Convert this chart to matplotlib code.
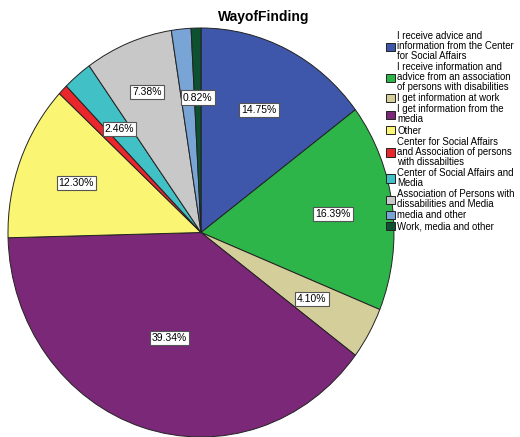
import matplotlib
matplotlib.use("Agg")
import matplotlib.pyplot as plt
import numpy as np

plt.rcParams['font.family'] = ['Liberation Sans', 'DejaVu Sans']

categories = [
    "I receive advice and\ninformation from the Center\nfor Social Affairs",
    "I receive information and\nadvice from an association\nof persons with disabilities",
    "I get information at work",
    "I get information from the\nmedia",
    "Other",
    "Center for Social Affairs\nand Association of persons\nwith dissabilties",
    "Center of Social Affairs and\nMedia",
    "Association of Persons with\ndissabilities and Media",
    "media and other",
    "Work, media and other",
]
counts = [18, 20, 5, 48, 15, 1, 3, 9, 2, 1]
show_label = [True, True, True, True, True, False, True, True, False, True]
colors = ["#3F57AA", "#2DB54A", "#D4CF9A", "#7B2878", "#FAF572",
          "#E8262B", "#41C0C6", "#C8C8C8", "#79A5D6", "#0D5130"]
label_dist = [0.67, 0.69, 0.66, 0.54, 0.69, 0.66, 0.66, 0.74, 0.66, 0.66]

fig = plt.figure(figsize=(5.2, 4.37), dpi=100)
ax = fig.add_axes([8/520, 0.0, 386/520, 409/437])

total = sum(counts)
wedges, _ = ax.pie(counts, colors=colors, startangle=90, counterclock=False,
                   wedgeprops=dict(edgecolor="#222222", linewidth=0.7))
ax.set_aspect('auto')
ax.set_xlim(-1.0, 1.0)
ax.set_ylim(-1.0, 1.0)

for w, c, show, d in zip(wedges, counts, show_label, label_dist):
    if not show:
        continue
    ang = np.deg2rad((w.theta1 + w.theta2) / 2)
    ax.text(d * np.cos(ang), d * np.sin(ang), f"{100*c/total:.2f}%",
            ha="center", va="center", fontsize=7.5,
            bbox=dict(boxstyle="square,pad=0.2", fc="white", ec="#555555", lw=0.8))

fig.text(264/520, 1 - 17/437, "WayofFinding", ha="center", va="center",
         fontsize=10, fontweight="bold")

leg = fig.legend(wedges, categories, loc="upper left",
                 bbox_to_anchor=(386/520, 1 - 31/437), frameon=False,
                 fontsize=6.9, handlelength=0.95, handleheight=0.95,
                 handletextpad=0.2, labelspacing=0.12, borderpad=0, borderaxespad=0)
for t in leg.get_texts():
    t.set_linespacing(1.0)

fig.savefig("out.png", dpi=100)
